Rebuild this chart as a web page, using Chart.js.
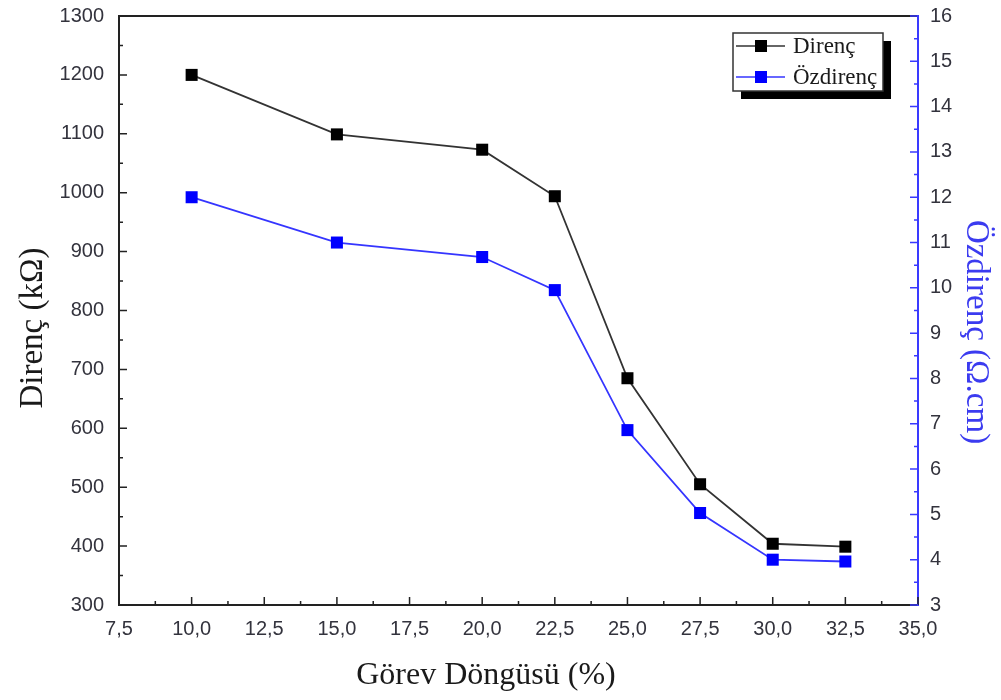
<!DOCTYPE html>
<html><head><meta charset="utf-8">
<script src="https://cdn.jsdelivr.net/npm/chart.js@4"></script>
<style>html,body{margin:0;padding:0;background:#fff}#wrap{width:1001px;height:700px}</style>
</head><body><div id="wrap"><canvas id="c" width="1001" height="700"></canvas></div>
<script>
const dutyCycle = [10, 15, 20, 22.5, 25, 27.5, 30, 32.5];
const direnc = [1200, 1099, 1073, 994, 685, 505, 404, 399];
const ozdirenc = [12.0, 11.0, 10.68, 9.95, 6.86, 5.03, 4.0, 3.96];
const seriesLabels = ['Direnç', 'Özdirenç'];
const xTitle = 'Görev Döngüsü (%)';
const yLeftTitle = 'Direnç (kΩ)';
const yRightTitle = 'Özdirenç (Ω.cm)';

const BLUE = '#0000ff';
const BLUE_AXIS = '#3a3aff';
const DARK = '#222';
const TICK_COL = '#33333d';

const fmt = v => Number(v).toFixed(1).replace('.', ',');

const framePlugin = {
  id: 'frame',
  afterDraw(chart) {
    const ctx = chart.ctx;
    const a = chart.chartArea;
    const sx = chart.scales.x, yl = chart.scales.y, yr = chart.scales.y1;
    ctx.save();
    ctx.lineWidth = 2;
    ctx.strokeStyle = DARK;
    ctx.beginPath();
    ctx.moveTo(a.right, a.top); ctx.lineTo(a.left, a.top); ctx.lineTo(a.left, a.bottom); ctx.lineTo(a.right, a.bottom);
    ctx.stroke();
    ctx.strokeStyle = BLUE_AXIS;
    ctx.beginPath(); ctx.moveTo(a.right, a.top - 1); ctx.lineTo(a.right, a.bottom + 1); ctx.stroke();
    const major = 8, minor = 4;
    function ticksOf(scale) {
      const px = scale.ticks.map(t => scale.getPixelForValue(t.value));
      const mids = [];
      for (let i = 0; i < px.length - 1; i++) mids.push((px[i] + px[i + 1]) / 2);
      return { px, mids };
    }
    ctx.lineWidth = 1.5;
    ctx.strokeStyle = DARK;
    let t = ticksOf(sx);
    ctx.beginPath();
    t.px.forEach(p => { ctx.moveTo(p, a.bottom); ctx.lineTo(p, a.bottom - major); });
    t.mids.forEach(p => { ctx.moveTo(p, a.bottom); ctx.lineTo(p, a.bottom - minor); });
    t = ticksOf(yl);
    t.px.forEach(p => { ctx.moveTo(a.left, p); ctx.lineTo(a.left + major, p); });
    t.mids.forEach(p => { ctx.moveTo(a.left, p); ctx.lineTo(a.left + minor, p); });
    ctx.stroke();
    ctx.strokeStyle = BLUE_AXIS;
    t = ticksOf(yr);
    ctx.beginPath();
    t.px.forEach(p => { ctx.moveTo(a.right, p); ctx.lineTo(a.right - major, p); });
    t.mids.forEach(p => { ctx.moveTo(a.right, p); ctx.lineTo(a.right - minor, p); });
    ctx.stroke();

    ctx.textAlign = 'center';
    ctx.textBaseline = 'middle';
    ctx.fillStyle = '#1a1a1a';
    ctx.font = '32px "Liberation Serif", "Times New Roman", serif';
    ctx.fillText(xTitle, 486, 676);
    ctx.font = '33px "Liberation Serif", "Times New Roman", serif';
    ctx.save();
    ctx.translate(33, 328); ctx.rotate(-Math.PI / 2);
    ctx.fillText(yLeftTitle, 0, 0);
    ctx.restore();
    ctx.save();
    ctx.fillStyle = '#3b3bf0';
    ctx.translate(976, 332); ctx.rotate(Math.PI / 2);
    ctx.fillText(yRightTitle, 0, 0);
    ctx.restore();

    const lx = 733, ly = 33, lw = 150, lh = 58;
    ctx.fillStyle = '#000';
    ctx.fillRect(lx + 8, ly + 8, lw, lh);
    ctx.fillStyle = '#fff';
    ctx.fillRect(lx, ly, lw, lh);
    ctx.lineWidth = 1.5;
    ctx.strokeStyle = '#333';
    ctx.strokeRect(lx, ly, lw, lh);
    ctx.textAlign = 'left';
    ctx.font = '23px "Liberation Serif", "Times New Roman", serif';
    chart.data.datasets.forEach((ds, i) => {
      const yy = ly + 13 + i * 31;
      ctx.strokeStyle = ds.borderColor;
      ctx.lineWidth = 1.5;
      ctx.beginPath(); ctx.moveTo(lx + 3, yy); ctx.lineTo(lx + 52, yy); ctx.stroke();
      ctx.fillStyle = ds.pointBackgroundColor;
      ctx.fillRect(lx + 22, yy - 6, 12, 12);
      ctx.fillStyle = '#1a1a1a';
      ctx.fillText(ds.label, lx + 60, yy + 1);
    });
    ctx.restore();
  }
};

const tickFont = { family: '"Liberation Sans", Arial, sans-serif', size: 20 };
const noPad = s => { s.paddingTop = 0; s.paddingBottom = 0; s.paddingLeft = 0; s.paddingRight = 0; };

new Chart(document.getElementById('c'), {
  type: 'line',
  data: {
    datasets: [
      {
        label: seriesLabels[0],
        data: dutyCycle.map((x, i) => ({ x, y: direnc[i] })),
        yAxisID: 'y',
        borderColor: '#333',
        borderWidth: 1.8,
        pointStyle: 'rect',
        pointRadius: 8.5,
        pointBackgroundColor: '#000',
        pointBorderColor: '#000',
        pointBorderWidth: 0,
        tension: 0
      },
      {
        label: seriesLabels[1],
        data: dutyCycle.map((x, i) => ({ x, y: ozdirenc[i] })),
        yAxisID: 'y1',
        borderColor: '#3535ff',
        borderWidth: 1.8,
        pointStyle: 'rect',
        pointRadius: 8.5,
        pointBackgroundColor: BLUE,
        pointBorderColor: BLUE,
        pointBorderWidth: 0,
        tension: 0
      }
    ]
  },
  options: {
    responsive: false,
    animation: false,
    layout: { padding: { top: 16, left: 0, right: 0, bottom: 0 } },
    plugins: { legend: { display: false }, tooltip: { enabled: false } },
    scales: {
      x: {
        type: 'linear', min: 7.5, max: 35,
        ticks: { stepSize: 2.5, callback: v => fmt(v), color: TICK_COL, padding: 12,
          font: tickFont, maxRotation: 0, autoSkip: false },
        grid: { display: false, drawTicks: false },
        border: { display: false },
        afterFit: s => { s.height = 95; noPad(s); }
      },
      y: {
        type: 'linear', position: 'left', min: 300, max: 1300,
        ticks: { stepSize: 100, callback: v => String(v), color: TICK_COL, padding: 15, font: tickFont },
        grid: { display: false, drawTicks: false },
        border: { display: false },
        afterFit: s => { s.width = 119; noPad(s); }
      },
      y1: {
        type: 'linear', position: 'right', min: 3, max: 16,
        ticks: { stepSize: 1, callback: v => String(v), color: TICK_COL, padding: 12, font: tickFont },
        grid: { display: false, drawTicks: false },
        border: { display: false },
        afterFit: s => { s.width = 83; noPad(s); }
      }
    }
  },
  plugins: [framePlugin]
});
</script>
</body></html>
